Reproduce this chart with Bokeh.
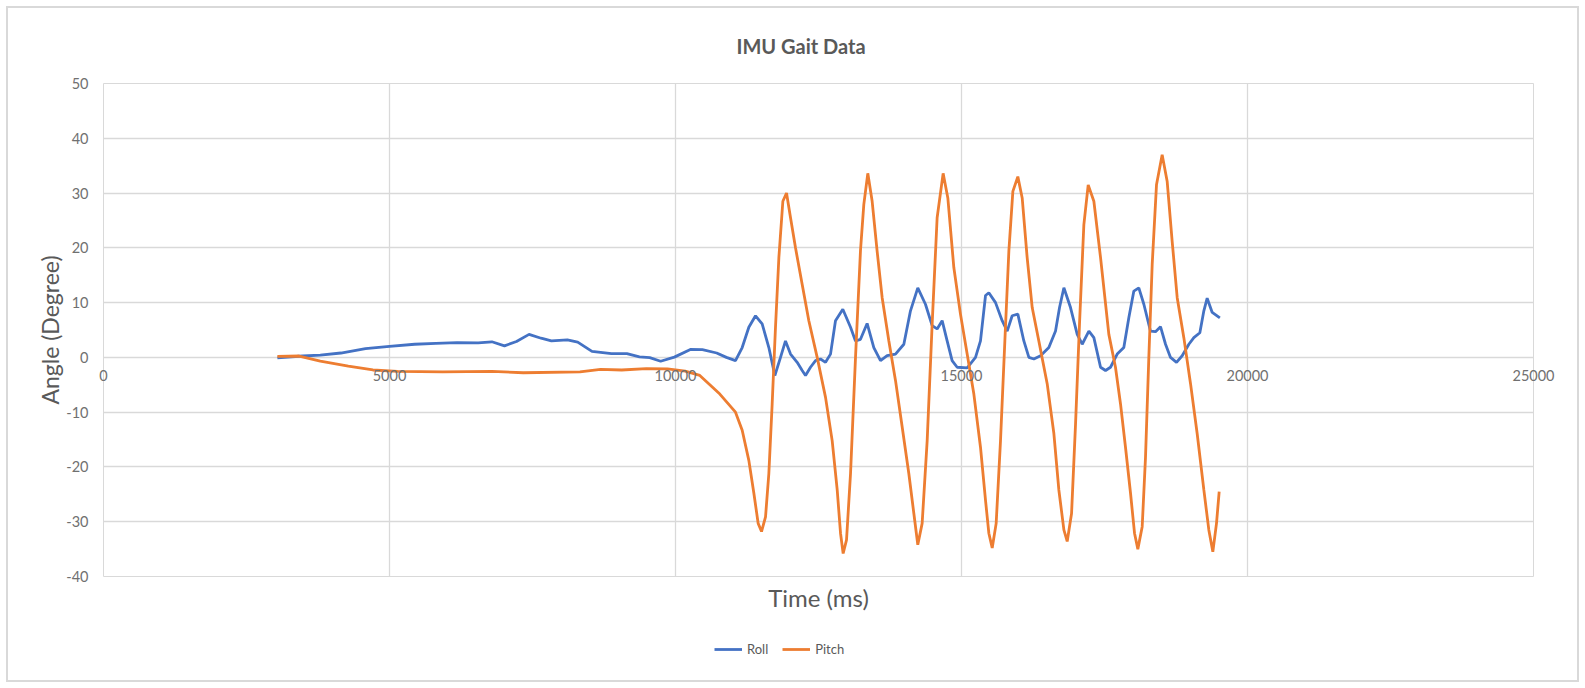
from bokeh.plotting import figure
from bokeh.models import Range1d, FixedTicker, LinearAxis, Legend, LegendItem
from bokeh.layouts import column
from bokeh.embed import file_html
from bokeh.resources import INLINE

# ---- data ----
roll_t = [3040, 3480, 3790, 4150, 4580, 5000, 5440, 5810, 6180, 6550, 6790, 7010, 7220, 7440,
          7650, 7830, 8110, 8290, 8540, 8880, 9150, 9370, 9550, 9740, 9980, 10260, 10470, 10720,
          10890, 11049, 11166, 11282, 11399, 11515, 11632, 11737, 11836, 11923, 12011, 12127,
          12215, 12273, 12360, 12448, 12535, 12623, 12710, 12797, 12925, 13060, 13147, 13234,
          13350, 13467, 13584, 13700, 13846, 13992, 14108, 14236, 14370, 14487, 14574, 14662,
          14749, 14836, 14924, 15099, 15245, 15332, 15420, 15478, 15595, 15711, 15799, 15886,
          15985, 16090, 16178, 16265, 16382, 16527, 16644, 16714, 16790, 16906, 17023, 17110,
          17227, 17314, 17431, 17518, 17605, 17722, 17838, 17926, 18013, 18100, 18188, 18304,
          18392, 18479, 18567, 18654, 18759, 18858, 18975, 19062, 19167, 19237, 19295, 19383,
          19517]
roll_v = [-0.1, 0.25, 0.4, 0.8, 1.6, 2.0, 2.4, 2.55, 2.7, 2.65, 2.85, 2.1, 2.9, 4.2,
          3.5, 3.0, 3.2, 2.8, 1.1, 0.7, 0.7, 0.1, -0.05, -0.7, 0.05, 1.45, 1.4, 0.8,
          0.0, -0.6, 1.8, 5.5, 7.6, 6.1, 1.8, -3.3, 0.0, 3.0, 0.6, -0.9,
          -2.4, -3.3, -1.8, -0.6, -0.3, -0.9, 0.6, 6.7, 8.8, 5.5, 3.0, 3.3,
          6.2, 1.8, -0.6, 0.3, 0.6, 2.4, 8.5, 12.7, 9.7, 5.8, 5.2, 6.7,
          3.0, -0.6, -1.8, -1.9, 0.0, 3.0, 11.3, 11.8, 10.0, 6.7, 4.8, 7.6,
          7.9, 3.0, 0.0, -0.3, 0.3, 1.8, 4.8, 9.1, 12.7, 9.1, 4.2, 2.4,
          4.8, 3.6, -1.8, -2.4, -1.8, 0.6, 1.8, 7.3, 12.1, 12.7, 9.7, 4.8,
          4.7, 5.6, 2.4, 0.0, -0.9, 0.3, 2.4, 3.6, 4.5, 8.5, 10.8, 8.2,
          7.2]

pitch_t = [3040, 3420, 3790, 4280, 4710, 5140, 5930, 6790, 7340, 8330, 8690, 9060, 9490, 9860,
           10170, 10425, 10775, 11049, 11166, 11282, 11370, 11445, 11504, 11574, 11632, 11690,
           11748, 11807, 11877, 11941, 12011, 12098, 12215, 12331, 12477, 12623, 12739, 12827,
           12885, 12931, 12990, 13060, 13147, 13234, 13292, 13362, 13438, 13525, 13613, 13730,
           13846, 13963, 14079, 14167, 14236, 14312, 14400, 14487, 14574, 14679, 14761, 14866,
           14982, 15099, 15216, 15332, 15420, 15478, 15537, 15606, 15682, 15758, 15828, 15898,
           15985, 16061, 16148, 16236, 16352, 16498, 16615, 16702, 16790, 16848, 16924, 16994,
           17063, 17139, 17215, 17314, 17431, 17576, 17692, 17780, 17867, 17955, 18025, 18083,
           18159, 18217, 18275, 18334, 18409, 18508, 18596, 18683, 18771, 18887, 19004, 19120,
           19237, 19324, 19394, 19458, 19505]
pitch_v = [0.2, 0.25, -0.7, -1.6, -2.3, -2.55, -2.65, -2.55, -2.8, -2.65, -2.2, -2.3, -2.05, -2.1,
           -2.5, -3.3, -6.7, -10.0, -13.3, -18.8, -24.8, -30.3, -31.8, -29.1, -21.2, -8.5,
           5.5, 18.2, 28.5, 30.0, 25.5, 20.0, 13.3, 6.7, 0.0, -7.3, -15.2, -24.2,
           -32.1, -35.8, -33.3, -21.2, 0.0, 19.5, 27.9, 33.6, 28.5, 19.4, 10.9, 3.0,
           -4.2, -12.7, -21.2, -28.5, -34.2, -30.3, -15.2, 6.1, 25.5, 33.6, 29.1, 16.4,
           7.9, 0.6, -6.7, -16.4, -26.1, -32.1, -34.8, -30.3, -15.2, 3.0, 19.4, 30.3,
           33.0, 29.1, 18.2, 9.1, 3.0, -4.8, -13.9, -24.2, -31.5, -33.6, -28.5, -12.1,
           6.1, 24.2, 31.5, 28.5, 18.2, 4.2, -1.8, -8.5, -16.4, -24.8, -32.1, -35.0,
           -30.9, -18.2, 0.0, 17.0, 31.5, 37.0, 32.1, 21.2, 10.9, 3.6, -4.8, -13.9,
           -24.2, -31.5, -35.5, -30.3, -24.5]

x_ticks = [0, 5000, 10000, 15000, 20000, 25000]
y_ticks = [-40, -30, -20, -10, 0, 10, 20, 30, 40, 50]

FONT = "Lato"
TXT = "#595959"
TICK = "#707070"
GRID = "#d9d9d9"
ROLL_C = "#4472C4"
PITCH_C = "#ED7D31"
LW = 2.8

p = figure(width=1585, height=628, output_backend="svg", toolbar_location=None,
           x_range=Range1d(0, 25000), y_range=Range1d(-40, 50),
           min_border_left=103, min_border_right=52, min_border_top=83, min_border_bottom=52,
           title="IMU Gait Data")
p.background_fill_color = "white"
p.border_fill_color = None
p.outline_line_color = GRID

p.title.align = "left"
p.title.offset = 633
p.title.text_font = FONT
p.title.text_font_size = "20px"
p.title.text_font_style = "bold"
p.title.text_color = TXT
p.title.standoff = 52

# grids
p.xgrid.ticker = FixedTicker(ticks=x_ticks)
p.ygrid.ticker = FixedTicker(ticks=y_ticks)
p.xgrid.grid_line_color = GRID
p.ygrid.grid_line_color = GRID
p.xgrid.grid_line_width = 1.3
p.ygrid.grid_line_width = 1.3

# y axis
ya = p.yaxis[0]
ya.ticker = FixedTicker(ticks=y_ticks)
ya.major_label_overrides = {t: str(t) for t in y_ticks}
ya.axis_line_color = None
ya.major_tick_line_color = None
ya.minor_tick_line_color = None
ya.major_label_text_font = FONT
ya.major_label_text_font_size = "14.5px"
ya.major_label_text_color = TICK
ya.major_label_standoff = 9
ya.axis_label = "Angle (Degree)"
ya.axis_label_text_font = FONT
ya.axis_label_text_font_size = "23px"
ya.axis_label_text_font_style = "normal"
ya.axis_label_text_color = TXT
ya.axis_label_standoff = -1

# x axis: tick labels drawn up at the y = 0 line (as in the reference)
xa = p.xaxis[0]
xa.ticker = FixedTicker(ticks=x_ticks)
xa.axis_line_color = None
xa.major_tick_line_color = None
xa.minor_tick_line_color = None
xa.major_tick_out = 0
xa.major_label_text_font = FONT
xa.major_label_text_font_size = "14.5px"
xa.major_label_text_color = TICK
xa.major_label_standoff = -245

# axis carrying the x title under the plot
lab = LinearAxis(ticker=FixedTicker(ticks=[]), axis_label="Time (ms)",
                 axis_line_color=None, major_tick_line_color=None, minor_tick_line_color=None,
                 axis_label_text_font=FONT, axis_label_text_font_size="24px",
                 axis_label_text_font_style="normal", axis_label_text_color=TXT,
                 axis_label_standoff=6)
p.add_layout(lab, "below")
p.below = [lab, xa]

p.line(roll_t, roll_v, line_color=ROLL_C, line_width=LW)
p.line(pitch_t, pitch_v, line_color=PITCH_C, line_width=LW)

# legend strip under the chart (its lines sit outside its own visible range)
lg = figure(width=1585, height=60, output_backend="svg", toolbar_location=None,
            x_range=Range1d(0, 1), y_range=Range1d(100, 101),
            x_axis_location=None, y_axis_location=None,
            min_border_left=0, min_border_right=0, min_border_top=0, min_border_bottom=0)
lg.outline_line_color = None
lg.background_fill_color = None
lg.border_fill_color = None
lg.xgrid.visible = False
lg.ygrid.visible = False
lr1 = lg.line(roll_t, roll_v, line_color=ROLL_C, line_width=LW)
lr2 = lg.line(pitch_t, pitch_v, line_color=PITCH_C, line_width=LW)
legend = Legend(items=[LegendItem(label="Roll", renderers=[lr1]),
                       LegendItem(label="Pitch", renderers=[lr2])],
                orientation="horizontal", location=(611, 31),
                label_text_font=FONT, label_text_font_size="13px", label_text_color=TXT,
                glyph_width=28, glyph_height=12, spacing=14, label_standoff=5,
                border_line_color=None, background_fill_alpha=0, margin=0, padding=4)
lg.add_layout(legend)

layout = column(p, lg, spacing=0,
                styles={"outline": "2px solid #d9d9d9", "outline-offset": "-8px",
                        "background-color": "white"})
open("out.html", "w").write(file_html(layout, INLINE))
